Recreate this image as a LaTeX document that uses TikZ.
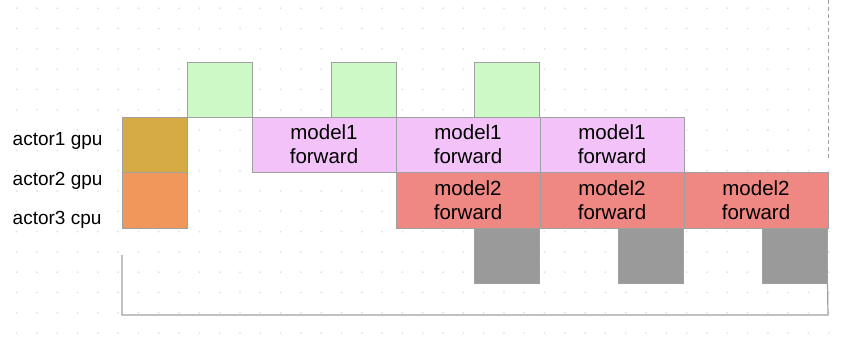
\documentclass[tikz,border=0pt]{standalone}
\usepackage{fontspec}
\setmainfont{Liberation Sans}
\usepackage{tikz}
\usetikzlibrary{positioning,calc}

\begin{document}
\begin{tikzpicture}[x=1pt, y=-1pt,
    box/.style={draw=boxBorder, line width=0.8pt, outer sep=0pt, inner sep=0pt},
    small/.style={box, minimum width=65pt, minimum height=55pt},
    wide/.style={box, minimum width=144pt, minimum height=55pt, align=center, font=\fontsize{20.5}{24}\selectfont},
    lane/.style={anchor=base west, inner sep=0pt, font=\fontsize{19}{23}\selectfont}]
    % Palette
    \definecolor{boxBorder}{HTML}{A0A0A0}
    \definecolor{dotColor}{HTML}{E4E4E4}
    \definecolor{syncColor}{HTML}{CCF9C6}
    \definecolor{goldColor}{HTML}{D6AB46}
    \definecolor{orangeColor}{HTML}{F0975C}
    \definecolor{fwdOneColor}{HTML}{F3C2F8}
    \definecolor{fwdTwoColor}{HTML}{EF8783}
    \definecolor{cpuColor}{HTML}{9A9A9A}

    \useasboundingbox (0,0) rectangle (844,340);

    % --- Grid dots ---
    \foreach \i in {0,...,41}
        \foreach \j in {0,...,16}
            \fill[dotColor] (16.7+20.3*\i, 8.3+20.3*\j) circle (1.1pt);

    % --- Lanes ---
    \node[lane] (l1) at (12.5,145) {actor1 gpu};
    \node[lane] (l2) at (12.5,185) {actor2 gpu};
    \node[lane] (l3) at (12.5,224) {actor3 cpu};

    % --- Startup ---
    \node[small, fill=goldColor] (s1) at (154.5,144.5) {};
    \node[small, fill=orangeColor, minimum height=56pt] (s2) at (154.5,200) {};

    % --- Sync blocks ---
    \node[small, fill=syncColor] (a) at (219.5,89.5) {};
    \node[small, fill=syncColor] (b) at (363.5,89.5) {};
    \node[small, fill=syncColor] (c) at (507,89.5) {};

    % --- Model1 forward ---
    \node[wide, fill=fwdOneColor] (p) at (324,144.5) {model1\\forward};
    \node[wide, fill=fwdOneColor] (q) at (468,144.5) {model1\\forward};
    \node[wide, fill=fwdOneColor] (r) at (612,144.5) {model1\\forward};

    % --- Model2 forward ---
    \node[wide, fill=fwdTwoColor, minimum height=56pt] (u) at (468,200) {model2\\forward};
    \node[wide, fill=fwdTwoColor, minimum height=56pt] (v) at (612,200) {model2\\forward};
    \node[wide, fill=fwdTwoColor, minimum height=56pt] (w) at (756,200) {model2\\forward};

    % --- CPU blocks ---
    \node[small, fill=cpuColor] (x) at (507,255.5) {};
    \node[small, fill=cpuColor] (y) at (651,255.5) {};
    \node[small, fill=cpuColor] (z) at (795,255.5) {};

    % --- Frame ---
    \coordinate (axtop) at (122,255);
    \coordinate (axend) at (828,315);
    \draw[boxBorder, line width=1.2pt] (axtop) |- (axend) -- (z.south east);

    \coordinate (dtop) at (828,0);
    \coordinate (dbot) at (828,158);
    \draw[boxBorder, line width=0.8pt, dash pattern=on 4pt off 3pt] (dtop) -- (dbot);

\end{tikzpicture}
\end{document}
